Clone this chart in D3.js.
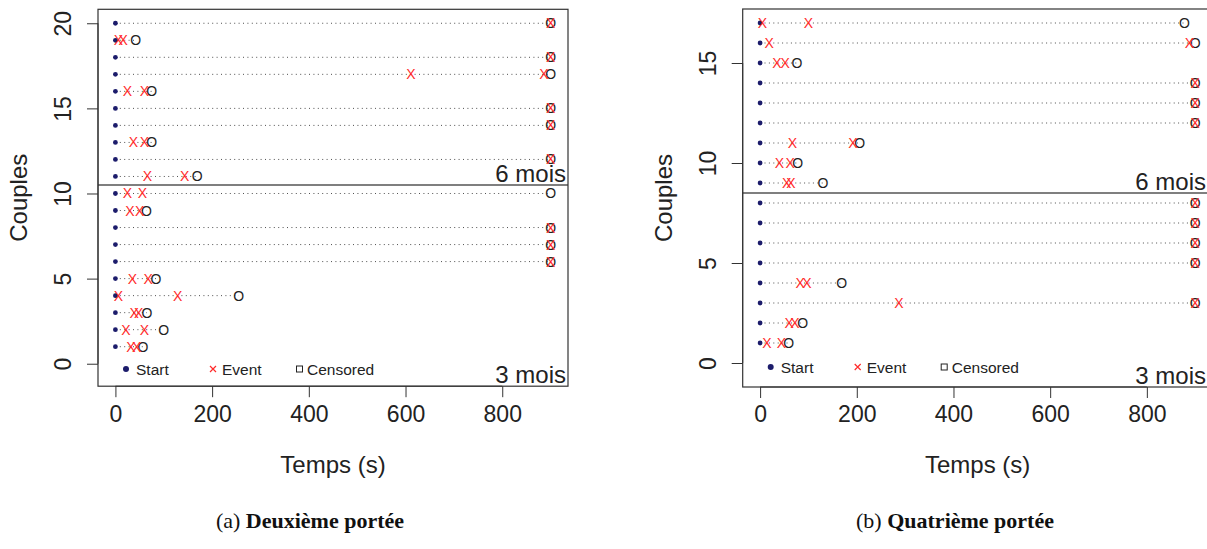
<!DOCTYPE html>
<html>
<head>
<meta charset="utf-8">
<script src="https://cdn.jsdelivr.net/npm/d3@7"></script>
<style>
  body { margin: 0; background: #fff; }
  text { font-family: "Liberation Sans", Arial, sans-serif; }
</style>
</head>
<body>
<div id="chart"></div>
<script>
var width = 1207;
var height = 549;

// ---- data (couple 1 first) ----
// (a) deuxieme portee : 20 couples
let left_events = [[32,44],[22,60],[39,48],[6,129],[35,68],[900],[900],[900],[30,50],[25,56],
                   [66,143],[900],[37,60],[900],[900],[25,60],[611,886],[900],[6,16],[900]];
let left_censor = [57,100,65,255,84,900,900,900,64,900,
                   169,900,75,900,900,75,900,900,42,900];
// (b) quatrieme portee : 17 couples
let right_events = [[14,44],[60,72],[287,900],[83,97],[900],[900],[900],[900],
                    [55,64],[40,62],[67,192],[900],[900],[900],[35,52],[19,888],[5,100]];
let right_censor = [59,88,900,169,900,900,900,900,
                    130,78,206,900,900,900,76,900,878];

let x_ticks = [0,200,400,600,800];
let left_yticks = [0,5,10,15,20];
let right_yticks = [0,5,10,15];
let legend_labels = ["Start","Event","Censored"];

let start_color = "#1c1c6b";
let event_color = "#ff2b2b";
let line_color = "#505050";

var svg = d3.select("#chart").append("svg")
  .attr("width", width)
  .attr("height", height)
  .style("background", "#fff");

drawPanel({x0:98, x1:568, y0:9.3, y1:386.2, ymax:20, split:10.5,
           events:left_events, censor:left_censor, yticks:left_yticks,
           legendY:369, capX:310, cap1:"(a) ", cap2:"Deuxième portée"});
drawPanel({x0:742.7, x1:1212.6, y0:9, y1:387, ymax:17, split:8.5,
           events:right_events, censor:right_censor, yticks:right_yticks,
           legendY:367, capX:955, cap1:"(b) ", cap2:"Quatrième portée"});

function drawPanel(p){
  // R style limits : xlim c(0,900), ylim c(-0.5, ymax), 4% extension
  var xs = d3.scaleLinear().domain([-36, 936]).range([p.x0, p.x1]);
  var r = p.ymax + 0.5;
  var ys = d3.scaleLinear().domain([-0.5 - 0.04*r, p.ymax + 0.04*r]).range([p.y1, p.y0]);

  var g = svg.append("g");
  var n = p.censor.length;
  var rows = d3.range(n).map(function(i){
    return {y: i+1, events: p.events[i], censor: p.censor[i]};
  });

  // dotted lines
  g.selectAll("line.dot").data(rows).enter().append("line")
    .attr("x1", xs(0)).attr("x2", function(d){ return xs(d.censor); })
    .attr("y1", function(d){ return ys(d.y); })
    .attr("y2", function(d){ return ys(d.y); })
    .style("stroke", line_color).style("stroke-width", 1)
    .style("stroke-dasharray", "1,3.4");

  // censored "O"
  g.selectAll("text.cens").data(rows).enter().append("text")
    .attr("x", function(d){ return xs(d.censor); })
    .attr("y", function(d){ return ys(d.y) + 5; })
    .attr("text-anchor", "middle")
    .attr("font-size", 14)
    .style("fill", "#222")
    .text("O");

  // start dots
  g.selectAll("circle.start").data(rows).enter().append("circle")
    .attr("cx", xs(0))
    .attr("cy", function(d){ return ys(d.y); })
    .attr("r", 2.4)
    .style("fill", start_color);

  // events "X"
  var ev = [];
  rows.forEach(function(d){ d.events.forEach(function(t){ ev.push({y:d.y, t:t}); }); });
  g.selectAll("text.ev").data(ev).enter().append("text")
    .attr("x", function(d){ return xs(d.t); })
    .attr("y", function(d){ return ys(d.y) + 5; })
    .attr("text-anchor", "middle")
    .attr("font-size", 14)
    .style("fill", event_color)
    .text("X");

  // separation 3 mois / 6 mois
  g.append("line")
    .attr("x1", p.x0).attr("x2", p.x1)
    .attr("y1", ys(p.split)).attr("y2", ys(p.split))
    .style("stroke", "#000").style("stroke-width", 1.2);

  var tx = Math.min(p.x1 - 2, 1206);
  g.append("text").attr("x", tx).attr("y", ys(p.split) - 3)
    .attr("text-anchor", "end").attr("font-size", 24).style("fill", "#222")
    .text("6 mois");
  g.append("text").attr("x", tx).attr("y", p.y1 - 3)
    .attr("text-anchor", "end").attr("font-size", 24).style("fill", "#222")
    .text("3 mois");

  // legend
  var lg = g.append("g").attr("transform", "translate(" + (p.x0 + 28) + "," + p.legendY + ")");
  lg.append("circle").attr("cx", 0).attr("cy", 0).attr("r", 3).style("fill", start_color);
  lg.append("path").attr("d", "M84,-3 L90,3 M84,3 L90,-3")
    .style("stroke", event_color).style("stroke-width", 1.2);
  lg.append("rect").attr("x", 170.5).attr("y", -3).attr("width", 6).attr("height", 6)
    .style("fill", "none").style("stroke", "#222").style("stroke-width", 1);
  var lx = [10, 96, 181];
  lg.selectAll("text").data(legend_labels).enter().append("text")
    .attr("x", function(d, i){ return lx[i]; })
    .attr("y", 5.5)
    .attr("font-size", 15.5).style("fill", "#222")
    .text(function(d){ return d; });

  // box
  svg.append("rect")
    .attr("x", p.x0).attr("y", p.y0)
    .attr("width", p.x1 - p.x0).attr("height", p.y1 - p.y0)
    .style("fill", "none").style("stroke", "#333").style("stroke-width", 1.2);

  // x axis
  var x_axis = d3.axisBottom(xs).tickValues(x_ticks).tickSize(11).tickPadding(8)
    .tickFormat(d3.format("d"));
  var gx = svg.append("g").attr("transform", "translate(0," + p.y1 + ")").call(x_axis);
  gx.select(".domain").attr("d", "M" + xs(0) + ",0H" + xs(800)).style("stroke", "#333");
  gx.selectAll(".tick line").style("stroke", "#333");
  gx.selectAll(".tick text").attr("font-size", 23).attr("font-family", "Liberation Sans")
    .style("fill", "#222").attr("dy", "0.71em");

  // y axis
  var y_axis = d3.axisLeft(ys).tickValues(p.yticks).tickSize(11).tickFormat(d3.format("d"));
  var gy = svg.append("g").attr("transform", "translate(" + p.x0 + ",0)").call(y_axis);
  gy.select(".domain").attr("d", "M0," + ys(0) + "V" + ys(p.yticks[p.yticks.length-1]))
    .style("stroke", "#333");
  gy.selectAll(".tick line").style("stroke", "#333");
  gy.selectAll(".tick text")
    .attr("font-size", 23).attr("font-family", "Liberation Sans").style("fill", "#222")
    .attr("x", null).attr("dy", null)
    .attr("text-anchor", "middle")
    .attr("transform", "translate(-27,0) rotate(-90)");

  // axis titles
  svg.append("text")
    .attr("x", (p.x0 + p.x1) / 2).attr("y", 473)
    .attr("text-anchor", "middle").attr("font-size", 24).style("fill", "#222")
    .text("Temps (s)");
  svg.append("text")
    .attr("transform", "translate(" + (p.x0 - 71) + "," + ((p.y0 + p.y1) / 2) + ") rotate(-90)")
    .attr("text-anchor", "middle").attr("font-size", 24).style("fill", "#222")
    .text("Couples");

  // caption
  var cap = svg.append("text")
    .attr("x", p.capX).attr("y", 528)
    .attr("text-anchor", "middle")
    .style("font-family", "'Liberation Serif', 'Times New Roman', serif")
    .attr("font-size", 22).style("fill", "#111");
  cap.append("tspan").text(p.cap1);
  cap.append("tspan").attr("font-weight", "bold").text(p.cap2);
}
</script>
</body>
</html>
